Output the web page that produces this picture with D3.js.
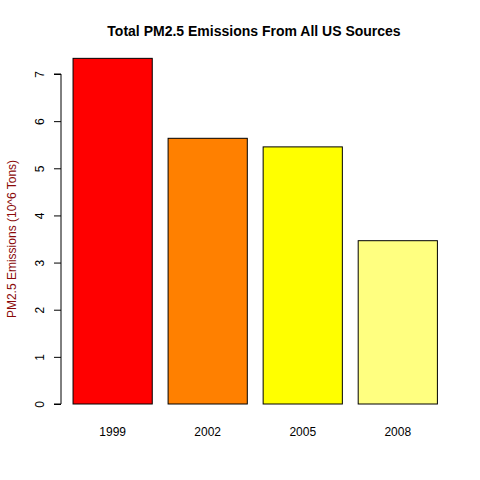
<!DOCTYPE html>
<html><head><meta charset="utf-8">
<script src="https://cdn.jsdelivr.net/npm/d3@7"></script>
<style>body{margin:0;background:#fff}</style>
</head><body>
<svg id="c" width="480" height="480"></svg>
<script>
const years = ["1999", "2002", "2005", "2008"];
const emissions = [7.332, 5.636, 5.454, 3.464];
const colors = ["#FF0000", "#FF8000", "#FFFF00", "#FFFF80"];
const yTicks = [0, 1, 2, 3, 4, 5, 6, 7];

const svg = d3.select("#c");
const font = "Liberation Sans, Arial, sans-serif";

// R barplot units: bar i spans 0.2+1.2i .. 1.2+1.2i
const x = d3.scaleLinear().domain([0, 4.8]).range([57.2, 437.4]);
const y = d3.scaleLinear().domain([0, 7]).range([404, 74]);

svg.selectAll("rect.bar")
	.data(emissions)
	.join("rect")
	.attr("x", (d, i) => x(0.2 + 1.2 * i))
	.attr("width", x(1) - x(0))
	.attr("y", (d) => y(d))
	.attr("height", (d) => y(0) - y(d))
	.attr("fill", (d, i) => colors[i])
	.attr("stroke", "#000")
	.attr("stroke-width", 1);

const yAxis = svg.append("g")
	.attr("transform", "translate(61,0)")
	.call(d3.axisLeft(y).tickValues(yTicks).tickSize(7).tickFormat(d3.format("d")));
yAxis.select(".domain").attr("d", `M-7,${y(0)}H0V${y(7)}H-7`).attr("stroke", "#000");
yAxis.selectAll(".tick text")
	.attr("font-family", font).attr("font-size", 12).attr("fill", "#000")
	.attr("text-anchor", "middle")
	.attr("transform", function () { return "rotate(-90) translate(0,0)"; })
	.attr("x", 0).attr("y", -19).attr("dy", "0")
	.attr("transform", "rotate(-90)")
	.each(function (d) {
		d3.select(this).attr("x", 0).attr("y", -17);
	});

svg.selectAll("text.xl")
	.data(years)
	.join("text")
	.attr("x", (d, i) => x(0.7 + 1.2 * i))
	.attr("y", 436)
	.attr("text-anchor", "middle")
	.attr("font-family", font).attr("font-size", 12)
	.text((d) => d);

svg.append("text")
	.attr("x", 254).attr("y", 36)
	.attr("text-anchor", "middle")
	.attr("font-family", font).attr("font-size", 14).attr("font-weight", "bold")
	.text("Total PM2.5 Emissions From All US Sources");

svg.append("text")
	.attr("transform", "translate(16,239) rotate(-90)")
	.attr("text-anchor", "middle")
	.attr("font-family", font).attr("font-size", 12).attr("fill", "#8B0A0A")
	.text("PM2.5 Emissions (10^6 Tons)");
</script>
</body></html>
